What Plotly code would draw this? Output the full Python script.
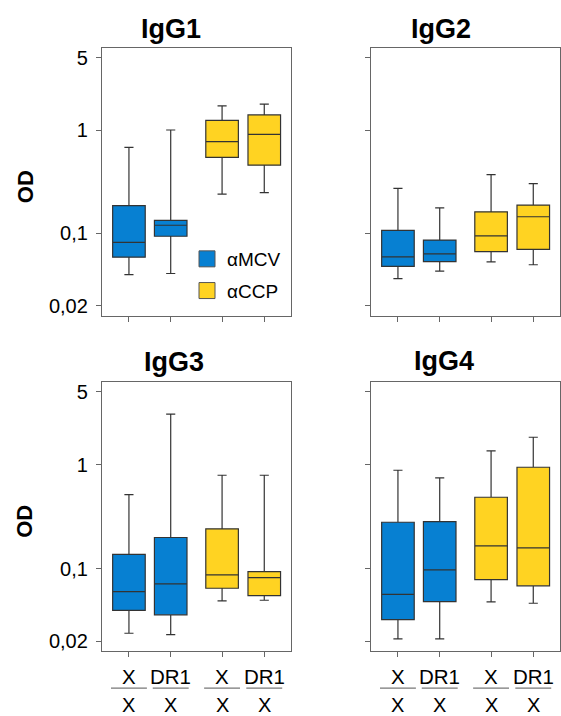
import plotly.graph_objects as go

# ---- data ----
panel_titles = ["IgG1", "IgG2", "IgG3", "IgG4"]
group_names = ["αMCV", "αCCP"]
allele_top = ["X", "DR1", "X", "DR1"]
allele_bottom = ["X", "X", "X", "X"]
positions = [0, 1, 2.23, 3.24]
y_tickvals = [0.02, 0.1, 1, 5]
y_ticktext = ["0,02", "0,1", "1", "5"]

igg1_low = [0.040, 0.041, 0.240, 0.248]
igg1_q1 = [0.059, 0.094, 0.545, 0.457]
igg1_med = [0.082, 0.120, 0.772, 0.907]
igg1_q3 = [0.186, 0.134, 1.24, 1.40]
igg1_up = [0.68, 1.0, 1.71, 1.78]

igg2_low = [0.0366, 0.0433, 0.0532, 0.0498]
igg2_q1 = [0.048, 0.0535, 0.0667, 0.0703]
igg2_med = [0.0593, 0.0634, 0.0948, 0.145]
igg2_q3 = [0.107, 0.0863, 0.162, 0.188]
igg2_up = [0.273, 0.177, 0.371, 0.303]

igg3_low = [0.0239, 0.0232, 0.0489, 0.0496]
igg3_q1 = [0.0397, 0.0359, 0.0647, 0.055]
igg3_med = [0.060, 0.0713, 0.0869, 0.0819]
igg3_q3 = [0.137, 0.199, 0.241, 0.0936]
igg3_up = [0.515, 3.05, 0.789, 0.789]

igg4_low = [0.0211, 0.0211, 0.0479, 0.0464]
igg4_q1 = [0.0323, 0.0482, 0.0784, 0.0682]
igg4_med = [0.0566, 0.097, 0.165, 0.158]
igg4_q3 = [0.279, 0.283, 0.485, 0.942]
igg4_up = [0.882, 0.745, 1.355, 1.83]

panels = [
    (igg1_low, igg1_q1, igg1_med, igg1_q3, igg1_up),
    (igg2_low, igg2_q1, igg2_med, igg2_q3, igg2_up),
    (igg3_low, igg3_q1, igg3_med, igg3_q3, igg3_up),
    (igg4_low, igg4_q1, igg4_med, igg4_q3, igg4_up),
]

# ---- style ----
FONT = "Liberation Sans, Arial, sans-serif"
BLUE = "#0780D2"
YELLOW = "#FFD322"
colors = [BLUE, YELLOW]
W, H = 561, 716

xdomains = [[102 / W, 291 / W], [371 / W, 560 / W]]
ydomains = [[1 - 315 / H, 1 - 46.5 / H], [1 - 652 / H, 1 - 382 / H]]

fig = go.Figure()

for p, (low, q1, med, q3, up) in enumerate(panels):
    ax = "" if p == 0 else str(p + 1)
    for g in range(2):
        idx = [2 * g, 2 * g + 1]
        fig.add_trace(go.Box(
            x=[positions[i] for i in idx],
            lowerfence=[low[i] for i in idx],
            q1=[q1[i] for i in idx],
            median=[med[i] for i in idx],
            q3=[q3[i] for i in idx],
            upperfence=[up[i] for i in idx],
            width=0.78,
            whiskerwidth=0.28,
            fillcolor=colors[g],
            line=dict(color="#333333", width=1.2),
            boxpoints=False,
            showlegend=False,
            hoverinfo="skip",
            xaxis="x" + ax, yaxis="y" + ax,
        ))

# legend entries (top-left panel)
for g in range(2):
    fig.add_trace(go.Scatter(
        x=[None], y=[None], mode="markers", name=group_names[g],
        legendgroup=group_names[g],
        marker=dict(symbol="square", size=18, color=colors[g],
                    line=dict(color="#555555", width=1)),
        showlegend=True, xaxis="x", yaxis="y",
    ))

layout = dict(
    width=W, height=H,
    margin=dict(l=0, r=0, t=0, b=0),
    paper_bgcolor="white", plot_bgcolor="white",
    font=dict(family=FONT, size=20, color="black"),
    boxmode="overlay",
    showlegend=True,
    legend=dict(x=187 / W, y=1 - 239 / H, xanchor="left", yanchor="top",
                bgcolor="rgba(0,0,0,0)", font=dict(size=19, family=FONT),
                itemsizing="trace", tracegroupgap=4),
    annotations=[],
    shapes=[],
)

for p in range(4):
    r, c = divmod(p, 2)
    ax = "" if p == 0 else str(p + 1)
    layout["xaxis" + ax] = dict(
        domain=xdomains[c], anchor="y" + ax,
        range=[-0.645, 3.88], tickvals=positions,
        showticklabels=False,
        ticks="outside", ticklen=5, tickcolor="#666666", tickwidth=1,
        showline=True, linecolor="#666666", linewidth=1.3, mirror=True,
        showgrid=False, zeroline=False,
    )
    layout["yaxis" + ax] = dict(
        domain=ydomains[r], anchor="x" + ax, type="log",
        range=[-1.795, 0.79], tickvals=y_tickvals,
        ticktext=y_ticktext, showticklabels=(c == 0),
        ticks="outside", ticklen=5, tickcolor="#666666", tickwidth=1,
        ticklabelstandoff=4,
        showline=True, linecolor="#666666", linewidth=1.3, mirror=True,
        showgrid=False, zeroline=False,
        tickfont=dict(size=20, family=FONT, color="black"),
    )
    # genotype labels under bottom panels
    if r == 1:
        xr = "x" + ax
        for i, pos in enumerate(positions):
            layout["annotations"].append(dict(
                text=allele_top[i], xref=xr, yref="paper", x=pos,
                y=1 - 677 / H, xanchor="center", yanchor="middle",
                showarrow=False, font=dict(size=20.5, family=FONT, color="black"),
            ))
            layout["annotations"].append(dict(
                text=allele_bottom[i], xref=xr, yref="paper", x=pos,
                y=1 - 705.5 / H, xanchor="center", yanchor="middle",
                showarrow=False, font=dict(size=20, family=FONT, color="black"),
            ))
            layout["shapes"].append(dict(
                type="line", xref=xr, yref="paper",
                x0=pos - 0.43, x1=pos + 0.43,
                y0=1 - 689 / H, y1=1 - 689 / H,
                line=dict(color="#777777", width=1.3),
            ))

title_pos = [(171, 25), (441, 25), (174, 360), (444, 359)]
for p, (tx, ty) in enumerate(title_pos):
    layout["annotations"].append(dict(
        text=f"<b>{panel_titles[p]}</b>", xref="paper", yref="paper",
        x=tx / W, y=1 - (ty + 2) / H, xanchor="center", yanchor="middle",
        showarrow=False, font=dict(size=27, family=FONT, color="black"),
    ))

for oy in [186, 522]:
    layout["annotations"].append(dict(
        text="<b>OD</b>", xref="paper", yref="paper",
        x=25 / W, y=1 - oy / H, xanchor="center", yanchor="middle",
        textangle=-90, showarrow=False,
        font=dict(size=22, family=FONT, color="black"),
    ))

fig.update_layout(**layout)
fig.write_html("out.html")
